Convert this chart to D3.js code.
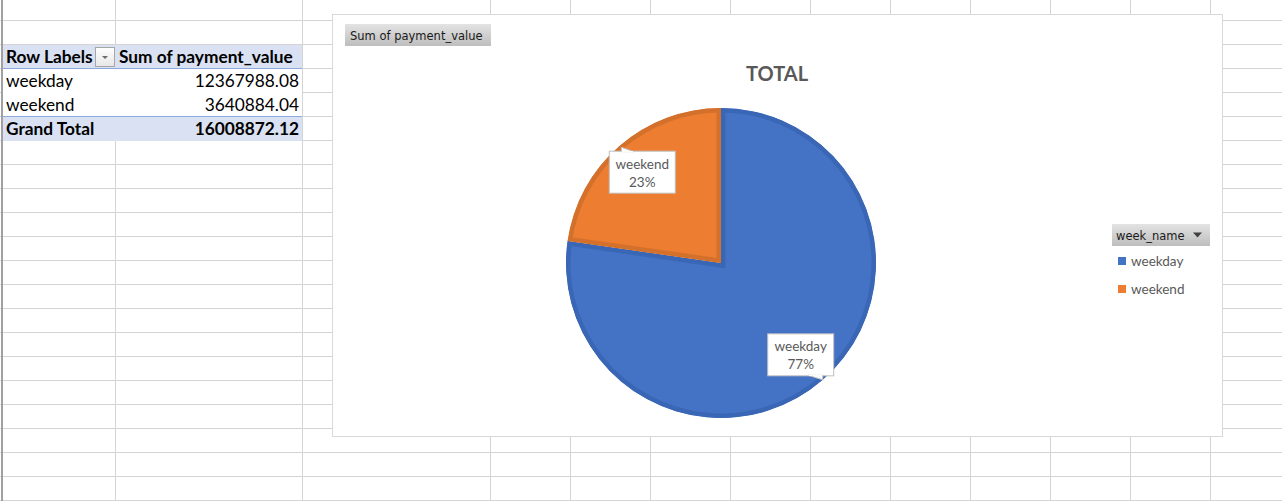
<!DOCTYPE html>
<html>
<head>
<meta charset="utf-8">
<script src="https://cdn.jsdelivr.net/npm/d3@7"></script>
<style>
  html, body { margin: 0; padding: 0; background: #ffffff; }
  svg { display: block; }
</style>
</head>
<body>
<svg id="sheet" width="1282" height="501"></svg>
<script>
// ---------- data ----------
const categories = ["weekday", "weekend"];
const values = [12367988.08, 3640884.04];
const chartTitle = "TOTAL";
const valueFieldName = "Sum of payment_value";
const legendFieldName = "week_name";
const rowHeaderLabel = "Row Labels";
const grandTotalLabel = "Grand Total";
const colors = ["#4472c4", "#ed7d31"];
const borderColors = ["#3a66b6", "#d3702c"];

// ---------- sheet grid ----------
const W = 1282, H = 501;
const svg = d3.select("#sheet");
const defs = svg.append("defs");
const rowEdges = d3.range(20, 501, 24);
const colEdges = [115, 302].concat(d3.range(490, 1282, 80));
const grid = svg.append("g");
grid.selectAll("line.h").data(rowEdges).join("line")
  .attr("x1", 0).attr("x2", W).attr("y1", d => d + 0.5).attr("y2", d => d + 0.5)
  .attr("stroke", "#d4d4d4");
grid.selectAll("line.v").data(colEdges).join("line")
  .attr("y1", 0).attr("y2", H).attr("x1", d => d + 0.5).attr("x2", d => d + 0.5)
  .attr("stroke", "#d4d4d4");
svg.append("rect").attr("x", 1).attr("y", 0).attr("width", 2).attr("height", H).attr("fill", "#a0a0a0");

// ---------- pivot table ----------
const tableFont = "Lato, 'Open Sans', sans-serif";
const tbl = svg.append("g");
const tx0 = 3, tx1 = 302, rowH = 24, headY = 44;
const total = d3.sum(values);
const tableRows = categories.map((c, i) => ({ label: c, value: values[i].toFixed(2), bold: false, fill: "#ffffff" }));
const allRows = [{ label: rowHeaderLabel, value: valueFieldName, bold: true, fill: "#d9e1f2", header: true }]
  .concat(tableRows)
  .concat([{ label: grandTotalLabel, value: total.toFixed(2), bold: true, fill: "#d9e1f2" }]);
allRows.forEach((r, i) => {
  const y = headY + i * rowH;
  tbl.append("rect").attr("x", tx0).attr("y", y + 1).attr("width", tx1 - tx0).attr("height", rowH).attr("fill", r.fill);
  tbl.append("text").attr("x", 6).attr("y", y + 19)
    .attr("font-family", tableFont).attr("font-size", 17.3).attr("font-weight", r.bold ? "bold" : "normal")
    .attr("fill", "#000").text(r.label);
  tbl.append("text").attr("x", r.header ? 119 : 299).attr("y", y + 19)
    .attr("text-anchor", r.header ? "start" : "end")
    .attr("font-family", tableFont).attr("font-size", 17.3).attr("font-weight", r.bold ? "bold" : "normal")
    .attr("fill", "#000").text(r.value);
});
// blue separator lines
[headY + rowH, headY + rowH * (allRows.length - 1)].forEach(y => {
  tbl.append("line").attr("x1", tx0).attr("x2", tx1).attr("y1", y + 0.5).attr("y2", y + 0.5).attr("stroke", "#8ea9db");
});
// dropdown button in header
const ddGrad = defs.append("linearGradient").attr("id", "ddg").attr("x1", 0).attr("y1", 0).attr("x2", 0).attr("y2", 1);
ddGrad.append("stop").attr("offset", 0).attr("stop-color", "#ffffff");
ddGrad.append("stop").attr("offset", 1).attr("stop-color", "#e6e6e6");
const dd = tbl.append("g").attr("transform", "translate(95,47)");
dd.append("rect").attr("x", 0.5).attr("y", 0.5).attr("width", 19).attr("height", 19).attr("fill", "url(#ddg)").attr("stroke", "#a6a6a6");
dd.append("path").attr("d", "M7,9 L13,9 L10,12 Z").attr("fill", "#6b6b6b");

// ---------- chart area ----------
const cx0 = 332, cy0 = 14, cx1 = 1222, cy1 = 436;
const chart = svg.append("g");
chart.append("rect").attr("x", cx0 + 0.5).attr("y", cy0 + 0.5).attr("width", cx1 - cx0).attr("height", cy1 - cy0)
  .attr("fill", "#ffffff").attr("stroke", "#d9d9d9");

const btnGrad = defs.append("linearGradient").attr("id", "btng").attr("x1", 0).attr("y1", 0).attr("x2", 0).attr("y2", 1);
btnGrad.append("stop").attr("offset", 0).attr("stop-color", "#e3e3e3");
btnGrad.append("stop").attr("offset", 1).attr("stop-color", "#bdbdbd");

const btnFont = "'DejaVu Sans', Verdana, sans-serif";
// value field button
chart.append("rect").attr("x", 345).attr("y", 24).attr("width", 146).attr("height", 22).attr("fill", "url(#btng)");
chart.append("text").attr("x", 350).attr("y", 39.5).attr("font-family", btnFont).attr("font-size", 11.5)
  .attr("fill", "#1a1a1a").text(valueFieldName);

// title
chart.append("text").attr("x", 777).attr("y", 81).attr("text-anchor", "middle")
  .attr("font-family", tableFont).attr("font-size", 20).attr("font-weight", "bold").attr("fill", "#595959")
  .text(chartTitle);

// pie
const pcx = 721, pcy = 263, R = 155;
const pie = d3.pie().sort(null).value(d => d.value);
const data = categories.map((c, i) => ({ name: c, value: values[i], i }));
const arcs = pie(data);
const arc = d3.arc().innerRadius(0).outerRadius(R);
const pieG = chart.append("g").attr("transform", `translate(${pcx},${pcy})`);
arcs.forEach((a, k) => {
  const cp = defs.append("clipPath").attr("id", "pc" + k);
  cp.append("path").attr("d", arc(a));
  pieG.append("path").attr("d", arc(a)).attr("fill", colors[a.data.i])
    .attr("stroke", borderColors[a.data.i]).attr("stroke-width", 9)
    .attr("clip-path", `url(#pc${k})`);
});

// data labels
const pct = d3.format(".0%");
const labelArc = d3.arc().innerRadius(R * 0.78).outerRadius(R * 0.78);
const labelFont = tableFont;
arcs.forEach(a => {
  const [lx, ly] = labelArc.centroid(a);
  const bw = 66, bh = 42;
  const x0 = lx - bw / 2, y0 = ly - bh / 2;
  const g = pieG.append("g").attr("transform", `translate(${x0},${y0})`);
  const outY = ly < 0; // pointer toward the outside of the pie
  g.append("rect").attr("x", 0.5).attr("y", 0.5).attr("width", bw).attr("height", bh)
    .attr("fill", "#ffffff").attr("stroke", "#bfbfbf");
  if (outY) {
    g.append("path").attr("d", `M12.5,1 L12.5,-3.5 L25,1 Z`).attr("fill", "#ffffff").attr("stroke", "#bfbfbf");
    g.append("line").attr("x1", 13).attr("x2", 24.5).attr("y1", 1).attr("y2", 1).attr("stroke", "#ffffff").attr("stroke-width", 1.2);
  } else {
    g.append("path").attr("d", `M${bw - 25},${bh} L${bw - 10.5},${bh + 4.5} L${bw - 10.5},${bh} Z`).attr("fill", "#ffffff").attr("stroke", "#bfbfbf");
    g.append("line").attr("x1", bw - 24.5).attr("x2", bw - 11).attr("y1", bh).attr("y2", bh).attr("stroke", "#ffffff").attr("stroke-width", 1.2);
  }
  g.append("text").attr("x", bw / 2 + 0.5).attr("y", 18).attr("text-anchor", "middle")
    .attr("font-family", labelFont).attr("font-size", 13.5).attr("fill", "#595959").text(a.data.name);
  g.append("text").attr("x", bw / 2 + 0.5).attr("y", 36).attr("text-anchor", "middle")
    .attr("font-family", labelFont).attr("font-size", 13.5).attr("fill", "#595959").text(pct(a.value / total));
});

// legend
chart.append("rect").attr("x", 1112).attr("y", 224).attr("width", 98).attr("height", 22).attr("fill", "url(#btng)");
chart.append("text").attr("x", 1116).attr("y", 240).attr("font-family", btnFont).attr("font-size", 11.5)
  .attr("fill", "#1a1a1a").text(legendFieldName);
chart.append("path").attr("d", "M1193,232.5 L1202,232.5 L1197.5,237.5 Z").attr("fill", "#404040");
const legendY = d3.scalePoint().domain(categories).range([261, 289]);
const leg = chart.append("g");
leg.selectAll("rect").data(categories).join("rect")
  .attr("x", 1118).attr("y", d => legendY(d) - 4).attr("width", 8).attr("height", 8)
  .attr("fill", (d, i) => colors[i]);
leg.selectAll("text").data(categories).join("text")
  .attr("x", 1131).attr("y", d => legendY(d) + 5)
  .attr("font-family", labelFont).attr("font-size", 13.5).attr("fill", "#595959").text(d => d);
</script>
</body>
</html>
